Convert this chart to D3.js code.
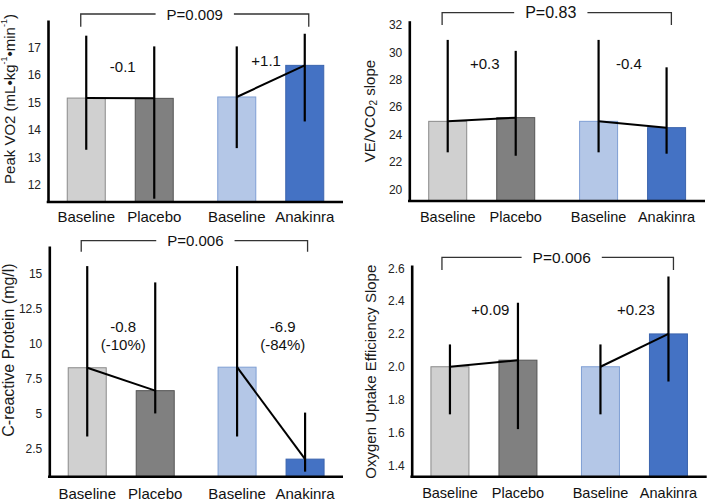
<!DOCTYPE html>
<html>
<head>
<meta charset="utf-8">
<script src="https://cdn.jsdelivr.net/npm/d3@7/dist/d3.min.js"></script>
<style>
  html, body { margin: 0; padding: 0; background: #fff; }
  svg { display: block; font-family: "Liberation Sans", Arial, sans-serif; }
</style>
</head>
<body>
<svg id="chart" width="709" height="500"></svg>
<script>
// ---------------- data ----------------
const categories = ["Baseline", "Placebo", "Baseline", "Anakinra"];
const groups = ["Placebo arm", "Anakinra arm"];

const vo2Mean  = [15.16, 15.15, 15.20, 16.35];
const vo2Upper = [17.43, 17.04, 17.04, 17.50];
const vo2Lower = [13.28, 11.50, 13.34, 14.31];
const vo2Ticks = [12, 13, 14, 15, 16, 17];
const vo2Change = [["-0.1"], ["+1.1"]];

const veMean  = [24.96, 25.23, 24.96, 24.50];
const veUpper = [30.90, 30.10, 30.90, 28.90];
const veLower = [22.70, 22.45, 22.70, 22.60];
const veTicks = [20, 22, 24, 26, 28, 30, 32];
const veChange = [["+0.3"], ["-0.4"]];

const crpMean  = [8.29, 6.66, 8.33, 1.79];
const crpUpper = [15.52, 14.36, 15.52, 5.10];
const crpLower = [3.40, 5.04, 3.40, 0.90];
const crpTicks = [2.5, 5, 7.5, 10, 12.5, 15];
const crpChange = [["-0.8", "(-10%)"], ["-6.9", "(-84%)"]];

const ouesMean  = [2.00, 2.04, 2.00, 2.20];
const ouesUpper = [2.136, 2.39, 2.136, 2.55];
const ouesLower = [1.71, 1.62, 1.71, 1.91];
const ouesTicks = [1.4, 1.6, 1.8, 2.0, 2.2, 2.4, 2.6];
const ouesChange = [["+0.09"], ["+0.23"]];

const pValues = ["P=0.009", "P=0.83", "P=0.006", "P=0.006"];

// ---------------- styles ----------------
const barFill   = ["#d0d0d0", "#808080", "#b4c7e7", "#4472c4"];
const barStroke = ["#8a8a8a", "#555555", "#7f9fd4", "#3b64ad"];

const panels = [
  { mean: vo2Mean, upper: vo2Upper, lower: vo2Lower, ticks: vo2Ticks, fmt: d3.format("d"),
    change: vo2Change, p: pValues[0],
    left: 48, right: 343, top: 20, bottom: 202, domain: [11.38, 18],
    title: "vo2", titleX: 8.5, titleY: 99, titleSize: 15,
    labelY: 216, labelSize: 15, pSize: 15,
    br: { y: 14, y2: 26.7, l: -5.5, r: 4, tdx: 0 },
    ann: { y: [66.7, 60], dx: [2.5, -4.6] } },
  { mean: veMean, upper: veUpper, lower: veLower, ticks: veTicks, fmt: d3.format("d"),
    change: veChange, p: pValues[1],
    left: 409.3, right: 705, top: 20.7, bottom: 201, domain: [19.15, 32.3],
    title: "ve", titleX: 368.5, titleY: 111, titleSize: 15,
    labelY: 216.7, labelSize: 14.5, pSize: 16,
    br: { y: 12.7, y2: 25, l: -5.6, r: 4.8, tdx: -6 },
    ann: { y: [63.3, 63.3], dx: [3, -3.7] } },
  { mean: crpMean, upper: crpUpper, lower: crpLower, ticks: crpTicks, fmt: d3.format(""),
    change: crpChange, p: pValues[2],
    left: 49.3, right: 343, top: 246, bottom: 476.7, domain: [0.54, 16.95],
    title: "crp", titleX: 8.5, titleY: 350, titleSize: 16,
    labelY: 493, labelSize: 15, pSize: 15,
    br: { y: 240.7, y2: 251.7, l: -6, r: 2.5, tdx: 1 },
    ann: { y: [326, 326], dx: [2, 11.7], lineH: 18.3 } },
  { mean: ouesMean, upper: ouesUpper, lower: ouesLower, ticks: ouesTicks, fmt: d3.format(".1f"),
    change: ouesChange, p: pValues[3],
    left: 411.7, right: 706.7, top: 265, bottom: 476.7, domain: [1.33, 2.62],
    title: "oues", titleX: 370, titleY: 371.7, titleSize: 15,
    labelY: 493, labelSize: 14.5, pSize: 15.5,
    br: { y: 257.3, y2: 270, l: -8, r: 5, tdx: 4 },
    ann: { y: [309.3, 309.3], dx: [6.4, 1.5] } }
];

const svg = d3.select("#chart");

function drawTitle(g, p) {
  const t = g.append("text")
    .attr("transform", `translate(${p.titleX},${p.titleY}) rotate(-90)`)
    .attr("text-anchor", "middle")
    .attr("dominant-baseline", "central")
    .attr("font-size", p.titleSize)
    .attr("fill", "#1a1a1a");
  if (p.title === "vo2") {
    t.append("tspan").text("Peak VO2 (mL\u2022kg");
    t.append("tspan").attr("font-size", 9).attr("dy", -5).text("-1");
    t.append("tspan").attr("dy", 5).text("\u2022min");
    t.append("tspan").attr("font-size", 9).attr("dy", -5).text("-1");
    t.append("tspan").attr("dy", 5).text(")");
  } else if (p.title === "ve") {
    t.append("tspan").text("VE/VCO");
    t.append("tspan").attr("font-size", 10).attr("dy", 4).text("2");
    t.append("tspan").attr("dy", -4).text(" slope");
  } else if (p.title === "crp") {
    t.text("C-reactive Protein (mg/l)");
  } else {
    t.text("Oxygen Uptake Efficiency Slope");
  }
}

panels.forEach(p => {
  const g = svg.append("g");
  const y = d3.scaleLinear().domain(p.domain).range([p.bottom, p.top]);
  const gx = d3.scalePoint().domain(groups).range([p.left, p.right]).padding(0.48);
  const inner = d3.scalePoint().domain([0, 1]).range([-34, 34]);
  const barW = 38;
  const xc = i => gx(groups[Math.floor(i / 2)]) + inner(i % 2);

  // bars
  g.selectAll("rect.bar").data(p.mean).join("rect")
    .attr("class", "bar")
    .attr("x", (d, i) => xc(i) - barW / 2)
    .attr("y", d => y(d))
    .attr("width", barW)
    .attr("height", d => p.bottom - y(d))
    .attr("fill", (d, i) => barFill[i])
    .attr("stroke", (d, i) => barStroke[i])
    .attr("stroke-width", 1);

  // error bars
  g.selectAll("line.err").data(p.mean).join("line")
    .attr("class", "err")
    .attr("x1", (d, i) => xc(i)).attr("x2", (d, i) => xc(i))
    .attr("y1", (d, i) => y(p.upper[i]))
    .attr("y2", (d, i) => y(p.lower[i]))
    .attr("stroke", "#000").attr("stroke-width", 2.2);

  // connecting lines
  [0, 1].forEach(k => {
    g.append("line")
      .attr("x1", xc(2 * k)).attr("y1", y(p.mean[2 * k]))
      .attr("x2", xc(2 * k + 1)).attr("y2", y(p.mean[2 * k + 1]))
      .attr("stroke", "#000").attr("stroke-width", 2);
  });

  // y axis
  const ax = g.append("g")
    .attr("transform", `translate(${p.left},0)`)
    .call(d3.axisLeft(y).tickValues(p.ticks).tickFormat(p.fmt).tickSize(0).tickPadding(7));
  ax.select(".domain").attr("stroke", "#000").attr("stroke-width", 2.6);
  ax.selectAll("text").attr("font-size", 12).attr("fill", "#222")
    .attr("font-family", "'Liberation Sans', Arial, sans-serif");

  // x axis line
  g.append("line")
    .attr("x1", p.left - 1.3).attr("x2", p.right)
    .attr("y1", p.bottom).attr("y2", p.bottom)
    .attr("stroke", "#000").attr("stroke-width", 2.6);

  // x labels
  g.selectAll("text.xl").data(categories).join("text")
    .attr("class", "xl")
    .attr("x", (d, i) => xc(i))
    .attr("y", p.labelY)
    .attr("text-anchor", "middle")
    .attr("dominant-baseline", "central")
    .attr("font-size", p.labelSize)
    .attr("fill", "#111")
    .text(d => d);

  drawTitle(g, p);

  // change annotations
  p.change.forEach((lines, k) => {
    lines.forEach((s, j) => {
      g.append("text")
        .attr("x", gx(groups[k]) + p.ann.dx[k])
        .attr("y", p.ann.y[k] + j * (p.ann.lineH || 0))
        .attr("text-anchor", "middle")
        .attr("dominant-baseline", "central")
        .attr("font-size", 15)
        .attr("fill", "#111")
        .text(s);
    });
  });

  // p-value bracket
  const bl = xc(0) + p.br.l, brr = xc(3) + p.br.r;
  const tx = (bl + brr) / 2 + p.br.tdx;
  const pt = g.append("text")
    .attr("x", tx).attr("y", p.br.y)
    .attr("text-anchor", "middle")
    .attr("dominant-baseline", "central")
    .attr("font-size", p.pSize)
    .attr("fill", "#111")
    .text(p.p);
  const bb = pt.node().getBBox();
  const gap = 11;
  const path = d3.path();
  path.moveTo(bl, p.br.y2); path.lineTo(bl, p.br.y); path.lineTo(bb.x - gap, p.br.y);
  path.moveTo(bb.x + bb.width + gap, p.br.y); path.lineTo(brr, p.br.y); path.lineTo(brr, p.br.y2);
  g.append("path").attr("d", path.toString())
    .attr("fill", "none").attr("stroke", "#333").attr("stroke-width", 1.3);
});
</script>
</body>
</html>
